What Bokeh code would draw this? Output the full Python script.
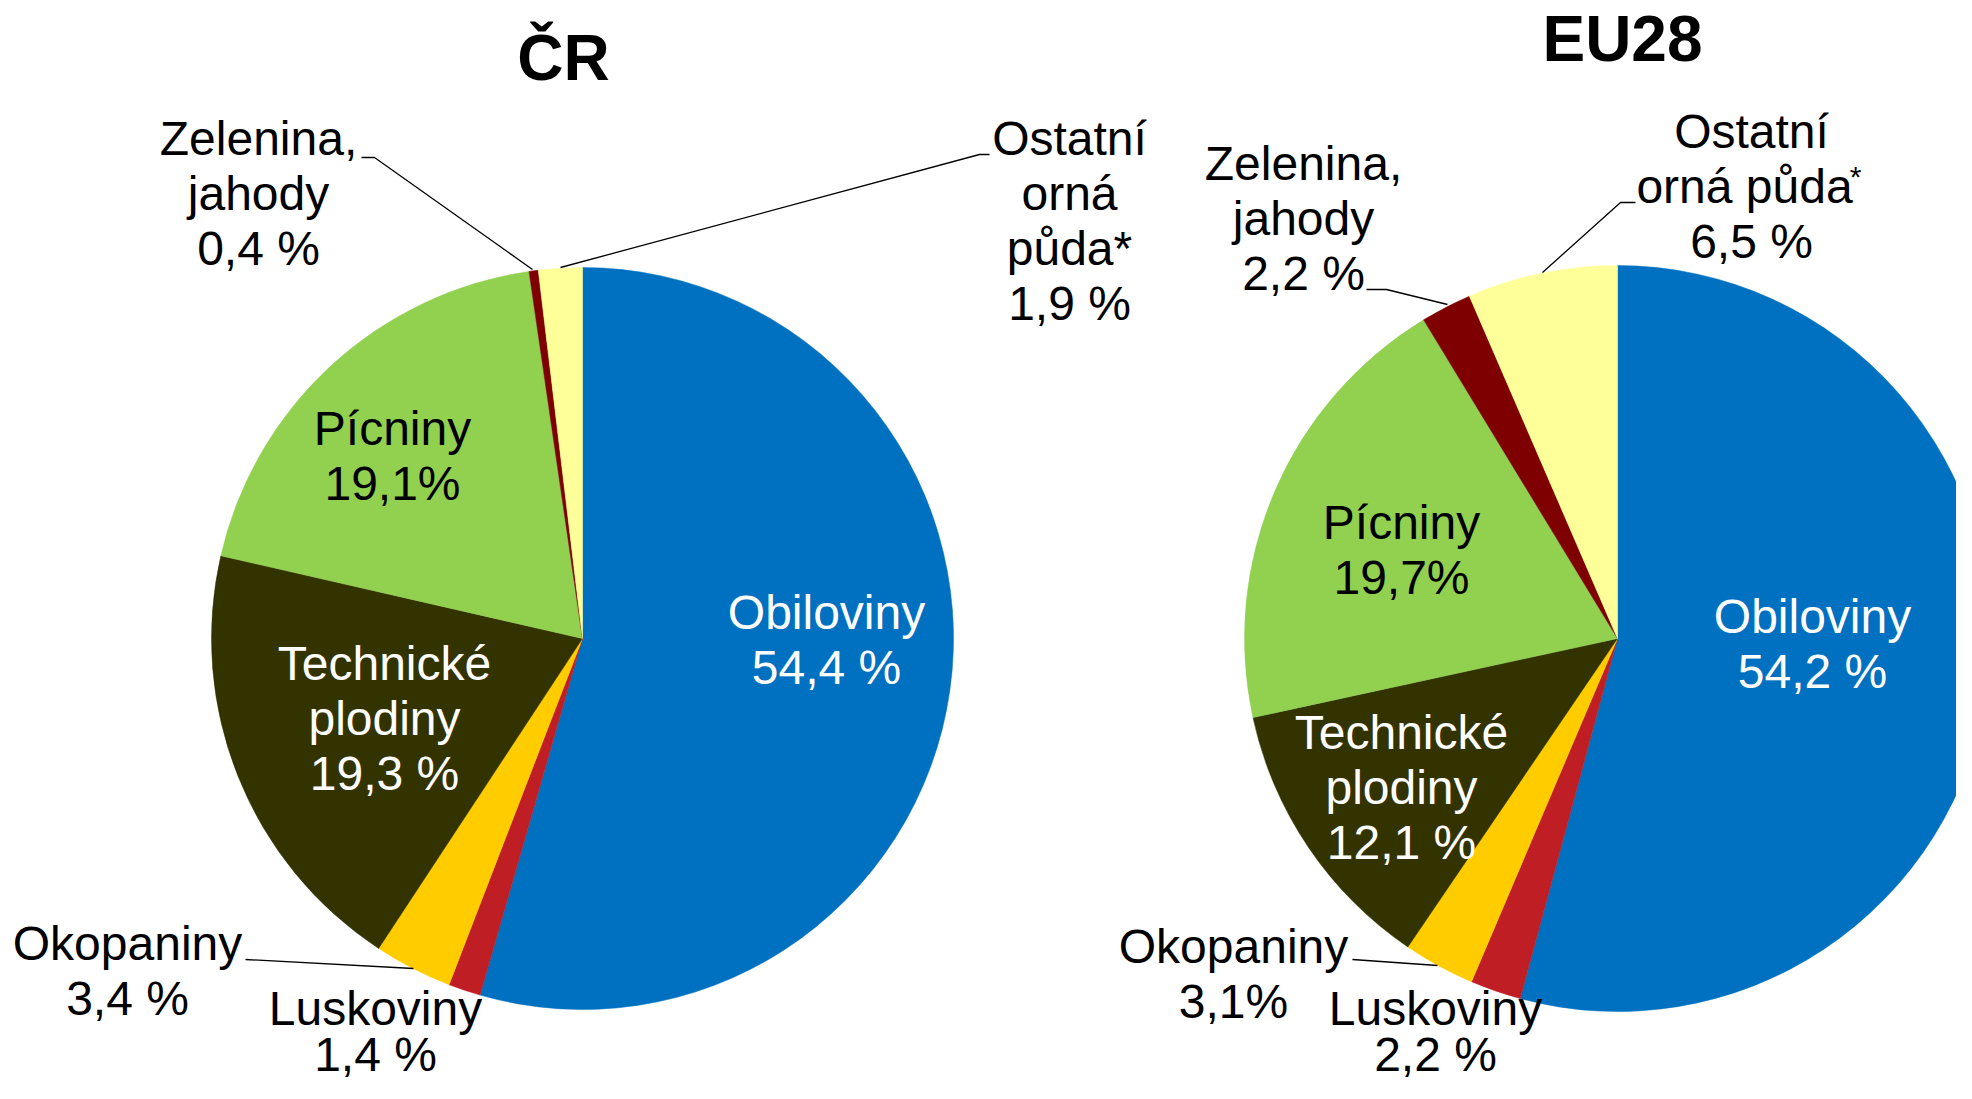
import numpy as np
from bokeh.plotting import figure
from bokeh.models import Range1d, ColumnDataSource
from bokeh.core.properties import value
from bokeh.embed import file_html
from bokeh.resources import INLINE

# ---------------- data ----------------
categories = ["Obiloviny", "Luskoviny", "Okopaniny", "Technické plodiny",
              "Pícniny", "Zelenina, jahody", "Ostatní orná půda*"]
slice_colors = ["#0070C0", "#BE1E24", "#FFCC00", "#333300",
                "#92D050", "#7F0000", "#FFFF99"]
cr_values = [54.4, 1.4, 3.4, 19.3, 19.1, 0.4, 1.9]
eu_values = [54.2, 2.2, 3.1, 12.1, 19.7, 2.2, 6.5]
cr_pct_labels = ["54,4 %", "1,4 %", "3,4 %", "19,3 %", "19,1%", "0,4 %", "1,9 %"]
eu_pct_labels = ["54,2 %", "2,2 %", "3,1%", "12,1 %", "19,7%", "2,2 %", "6,5 %"]
cr_name_lines = [["Obiloviny"], ["Luskoviny"], ["Okopaniny"], ["Technické", "plodiny"],
                 ["Pícniny"], ["Zelenina,", "jahody"], ["Ostatní", "orná", "půda*"]]
eu_name_lines = [["Obiloviny"], ["Luskoviny"], ["Okopaniny"], ["Technické", "plodiny"],
                 ["Pícniny"], ["Zelenina,", "jahody"], ["Ostatní", "orná půda"]]
titles = ["ČR", "EU28"]

# ---------------- layout (reference pixel coords, y downwards) ----------------
W_FIG, H_FIG = 1956, 1083
FONT = value("Liberation Sans")
LINE = 55

def Y(y):
    return H_FIG - y

pies = [
    dict(cx=582, cy=638, r=371, values=cr_values, pct=cr_pct_labels, names=cr_name_lines,
         title=titles[0], title_pos=(563, 57),
         label_pos=[(826, 612), (375, 1008), (127, 943), (384, 663),
                    (392, 428), (258, 138), (1069, 138)],
         label_spacing=[LINE, 46, LINE, LINE, LINE, LINE, LINE],
         label_color=["white", "black", "black", "white", "black", "black", "black"],
         leaders=[[(361, 157), (374, 157), (532, 269)],
                  [(560, 267), (979, 154), (989, 154)],
                  [(245, 959), (413, 968)]]),
    dict(cx=1617, cy=638, r=373, values=eu_values, pct=eu_pct_labels, names=eu_name_lines,
         title=titles[1], title_pos=(1622, 38),
         label_pos=[(1812, 616), (1435, 1008), (1233, 946), (1401, 732),
                    (1401, 522), (1303, 163), (1751, 131)],
         label_spacing=[LINE, 46, LINE, LINE, LINE, LINE, LINE],
         label_color=["white", "black", "black", "white", "black", "black", "black"],
         leaders=[[(1366, 289), (1386, 289), (1447, 304)],
                  [(1635, 202), (1620, 202), (1542, 272)],
                  [(1352, 959), (1437, 965)]]),
]

p = figure(width=W_FIG, height=H_FIG, output_backend="svg", toolbar_location=None,
           x_range=Range1d(0, W_FIG), y_range=Range1d(0, H_FIG),
           min_border=0)
p.axis.visible = False
p.grid.visible = False
p.outline_line_color = None
p.background_fill_color = "white"
p.border_fill_color = "white"

for pie in pies:
    vals = np.array(pie["values"], dtype=float)
    frac = vals / vals.sum()
    cum = np.concatenate([[0], np.cumsum(frac)])
    start = np.pi / 2 - cum[1:] * 2 * np.pi
    end = np.pi / 2 - cum[:-1] * 2 * np.pi
    src = ColumnDataSource(dict(start=start, end=end, color=slice_colors,
                                cat=categories, val=pie["values"]))
    p.wedge(x=pie["cx"], y=Y(pie["cy"]), radius=pie["r"], start_angle="start",
            end_angle="end", direction="anticlock", fill_color="color",
            line_color="color", line_width=0.5, source=src)

    # title
    tx, ty = pie["title_pos"]
    p.text(x=[tx], y=[Y(ty)], text=[pie["title"]], text_font=FONT,
           text_font_size="64px", text_font_style="bold", text_align="center",
           text_baseline="middle", text_color="black")

    # leader lines
    for ld in pie["leaders"]:
        p.line(x=[a for a, b in ld], y=[Y(b) for a, b in ld], line_color="black",
               line_width=1.3)

    # labels
    xs, ys, txt, cols = [], [], [], []
    for i, (lx, ly) in enumerate(pie["label_pos"]):
        lines = pie["names"][i] + [pie["pct"][i]]
        for k, s in enumerate(lines):
            x_off = -7 if (pie is not None and s == "orná půda") else 0
            xs.append(lx + x_off)
            ys.append(Y(ly + k * pie["label_spacing"][i]))
            txt.append(s)
            cols.append(pie["label_color"][i])
    p.text(x=xs, y=ys, text=txt, text_color=cols, text_font=FONT,
           text_font_size="48px", text_align="center", text_baseline="middle")

# EU28 "orná půda" has a superscript asterisk
eu = pies[1]
lx, ly = eu["label_pos"][6]
p.text(x=[1855], y=[Y(ly + LINE - 10)], text=["*"], text_font=FONT,
       text_font_size="30px", text_align="center", text_baseline="middle",
       text_color="black")

html = file_html(p, INLINE)
open("out.html", "w").write(html)
